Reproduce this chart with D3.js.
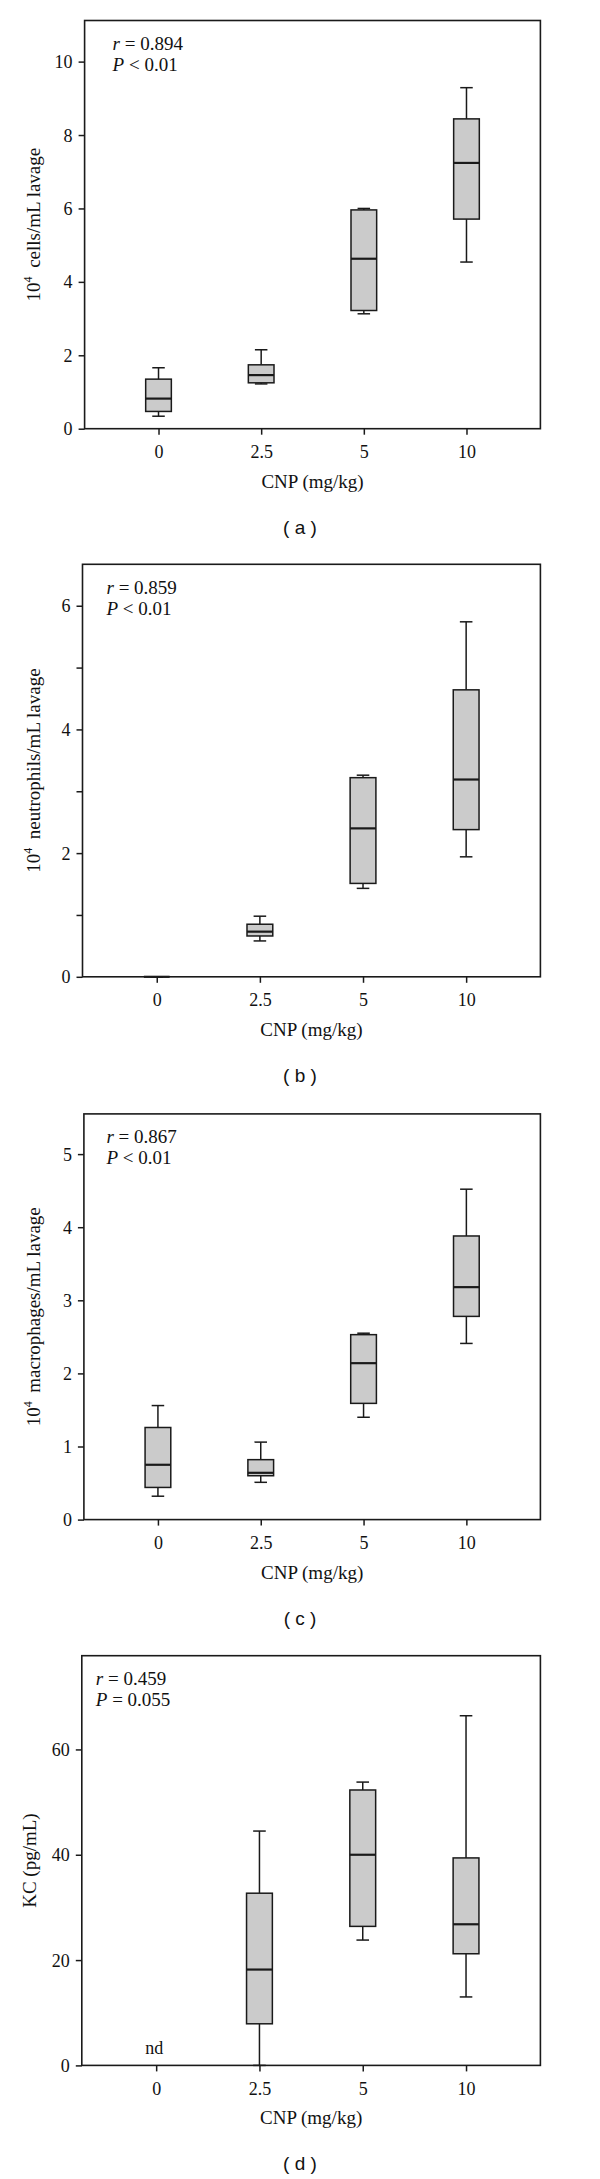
<!DOCTYPE html>
<html>
<head>
<meta charset="utf-8">
<script src="https://cdn.jsdelivr.net/npm/d3@7"></script>
<style>
  html, body { margin: 0; padding: 0; background: #fff; }
  svg { display: block; }
  text { font-family: "Liberation Serif", "Times New Roman", serif; fill: #111; }
</style>
</head>
<body>
<svg id="chart" width="600" height="2179"></svg>
<script>
// ---- data ----
const categories = ["0", "2.5", "5", "10"];
const xTitle = "CNP (mg/kg)";

// [low whisker, Q1, median, Q3, high whisker]
const cellsStats = [[0.34, 0.47, 0.82, 1.35, 1.66], [1.22, 1.25, 1.46, 1.74, 2.15], [3.13, 3.22, 4.63, 5.96, 6.00], [4.54, 5.71, 7.24, 8.44, 9.29]];
const neutroStats = [[0, 0, 0, 0, 0], [0.58, 0.66, 0.73, 0.85, 0.98], [1.43, 1.51, 2.40, 3.22, 3.26], [1.94, 2.38, 3.19, 4.64, 5.74]];
const macroStats = [[0.32, 0.44, 0.75, 1.26, 1.56], [0.51, 0.60, 0.64, 0.82, 1.06], [1.40, 1.59, 2.14, 2.53, 2.55], [2.41, 2.78, 3.18, 3.88, 4.52]];
const kcStats = [null, [0, 7.9, 18.2, 32.7, 44.5], [23.8, 26.4, 40.0, 52.3, 53.8], [13.0, 21.2, 26.8, 39.4, 66.4]];

const cellsTicks = [0, 2, 4, 6, 8, 10];
const neutroTicks = [0, 1, 2, 3, 4, 5, 6];
const neutroTickLabels = ["0", "", "2", "", "4", "", "6"];
const macroTicks = [0, 1, 2, 3, 4, 5];
const kcTicks = [0, 20, 40, 60];

const cellsStatsText = ["r = 0.894", "P < 0.01"];
const neutroStatsText = ["r = 0.859", "P < 0.01"];
const macroStatsText = ["r = 0.867", "P < 0.01"];
const kcStatsText = ["r = 0.459", "P = 0.055"];

const panelLabels = ["( a )", "( b )", "( c )", "( d )"];
const yLabels = [
  ["10", "4", "cells/mL lavage"],
  ["10", "4", "neutrophils/mL lavage"],
  ["10", "4", "macrophages/mL lavage"],
  ["KC (pg/mL)", "", ""]
];
const yMax = [11.12, 6.67, 5.55, 77.8];

// ---- layout ----
const panels = [
  { stats: cellsStats, ticks: cellsTicks, labels: null, text: cellsStatsText, box: { l: 84.6, r: 540.4, t: 20.5, b: 428.7 }, tx: 28, ylx: 34 },
  { stats: neutroStats, ticks: neutroTicks, labels: neutroTickLabels, text: neutroStatsText, box: { l: 82.5, r: 540.4, t: 564.3, b: 976.8 }, tx: 24, ylx: 34 },
  { stats: macroStats, ticks: macroTicks, labels: null, text: macroStatsText, box: { l: 83.9, r: 540.4, t: 1113.9, b: 1519.6 }, tx: 22.5, ylx: 34 },
  { stats: kcStats, ticks: kcTicks, labels: null, text: kcStatsText, box: { l: 81.8, r: 540.4, t: 1655.7, b: 2065.4 }, tx: 14, ylx: 30 }
];

const svg = d3.select("#chart");
const boxFill = "#cbcbcb";
const ink = "#1a1a1a";

panels.forEach((p, i) => {
  const B = p.box;
  const g = svg.append("g");
  const x = d3.scaleLinear().domain([-0.72, 3.72]).range([B.l, B.r]);
  const y = d3.scaleLinear().domain([0, yMax[i]]).range([B.b, B.t]);
  const halfBox = (x(0.125) - x(0));
  const halfCap = (x(0.061) - x(0));

  // frame
  g.append("rect").attr("x", B.l).attr("y", B.t).attr("width", B.r - B.l).attr("height", B.b - B.t)
    .attr("fill", "none").attr("stroke", ink).attr("stroke-width", 1.6);

  // y axis
  const yAxis = d3.axisLeft(y).tickValues(p.ticks).tickSize(6).tickPadding(6)
    .tickFormat((d, j) => p.labels ? p.labels[j] : d3.format("d")(d));
  const ya = g.append("g").attr("transform", `translate(${B.l},0)`).call(yAxis);
  ya.select(".domain").remove();
  ya.selectAll("line").attr("stroke", ink).attr("stroke-width", 1.5);
  ya.selectAll("text").attr("font-family", "Liberation Serif").attr("font-size", 18).attr("fill", "#111").attr("dy", "0.34em");

  // x axis
  const xAxis = d3.axisBottom(x).tickValues([0, 1, 2, 3]).tickSize(6).tickPadding(7)
    .tickFormat((d) => categories[d]);
  const xa = g.append("g").attr("transform", `translate(0,${B.b})`).call(xAxis);
  xa.select(".domain").remove();
  xa.selectAll("line").attr("stroke", ink).attr("stroke-width", 1.5);
  xa.selectAll("text").attr("font-family", "Liberation Serif").attr("font-size", 18).attr("fill", "#111").attr("dy", "0.9em");

  // boxes
  p.stats.forEach((s, k) => {
    if (!s) return;
    const cx = x(k);
    const bg = g.append("g");
    bg.append("line").attr("x1", cx).attr("x2", cx).attr("y1", y(s[3])).attr("y2", y(s[4])).attr("stroke", ink).attr("stroke-width", 1.5);
    bg.append("line").attr("x1", cx).attr("x2", cx).attr("y1", y(s[1])).attr("y2", y(s[0])).attr("stroke", ink).attr("stroke-width", 1.5);
    bg.append("line").attr("x1", cx - halfCap).attr("x2", cx + halfCap).attr("y1", y(s[4])).attr("y2", y(s[4])).attr("stroke", ink).attr("stroke-width", 1.5);
    bg.append("line").attr("x1", cx - halfCap).attr("x2", cx + halfCap).attr("y1", y(s[0])).attr("y2", y(s[0])).attr("stroke", ink).attr("stroke-width", 1.5);
    bg.append("rect").attr("x", cx - halfBox).attr("width", 2 * halfBox)
      .attr("y", y(s[3])).attr("height", Math.max(0, y(s[1]) - y(s[3])))
      .attr("fill", boxFill).attr("stroke", ink).attr("stroke-width", 1.5);
    bg.append("line").attr("x1", cx - halfBox).attr("x2", cx + halfBox).attr("y1", y(s[2])).attr("y2", y(s[2])).attr("stroke", ink).attr("stroke-width", 2.2);
  });

  if (i === 3) {
    g.append("text").attr("x", x(0) - 2).attr("y", B.b - 11).attr("text-anchor", "middle")
      .attr("font-size", 18).text("nd");
  }

  // stats text
  p.text.forEach((t, j) => {
    const parts = t.split(" ");
    const tx = g.append("text").attr("x", B.l + p.tx).attr("y", B.t + 29.5 + j * 21).attr("font-size", 19);
    tx.append("tspan").attr("font-style", "italic").text(parts[0]);
    tx.append("tspan").text(" " + parts.slice(1).join(" "));
  });

  // x title
  g.append("text").attr("x", (B.l + B.r) / 2).attr("y", B.b + 59).attr("text-anchor", "middle")
    .attr("font-size", 19).text(xTitle);

  // y title
  const yl = yLabels[i];
  const yt = g.append("text").attr("transform", `translate(${p.ylx + 6},${(B.t + B.b) / 2}) rotate(-90)`)
    .attr("text-anchor", "middle").attr("font-size", 19);
  yt.append("tspan").text(yl[0]);
  if (yl[1]) {
    yt.append("tspan").attr("font-size", 12).attr("dy", -8).text(yl[1]);
    yt.append("tspan").attr("dy", 8).text("\u2009 " + yl[2]);
  }

  // panel label
  g.append("text").attr("x", 300).attr("y", B.b + 105).attr("text-anchor", "middle")
    .style("font-family", "'Liberation Sans', Arial, sans-serif").attr("font-size", 19)
    .style("white-space", "pre").text(panelLabels[i]);
});
</script>
</body>
</html>
